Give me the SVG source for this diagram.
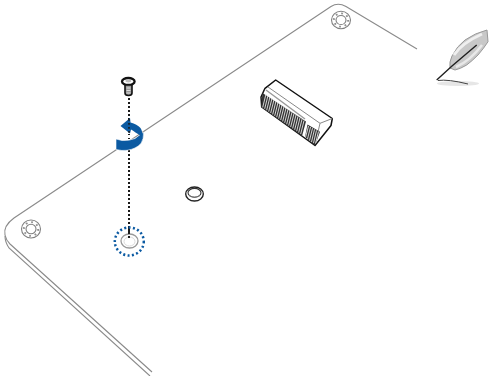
<svg xmlns="http://www.w3.org/2000/svg" width="489" height="376" viewBox="0 0 489 376">
<defs>
<style>
.b{fill:none;stroke:#8a8a8a;stroke-width:1.100}
.d{fill:none;stroke:#1a1a1a;stroke-width:2;stroke-dasharray:2 2}
</style>
<g id="mh">
<circle r="9.500" fill="#fff" stroke="#808080" stroke-width="1.100"/>
<circle r="5" fill="none" stroke="#808080" stroke-width="1.100"/>
<circle r="7.200" fill="none" stroke="#909090" stroke-width="2" stroke-dasharray="1.800 3.850"/>
</g>
</defs>
<rect width="489" height="376" fill="#fff"/>
<g id="board">
<path class="b" d="M417 49L346 6.500Q338 2 331 6.500L14 218Q3 226 5 235Q6 240 10 244L152 372"/>
<path class="b" d="M5 236Q5 242 9 248L150 376"/>
</g>
<g id="standoff-top"><use href="#mh" transform="translate(341 20) scale(1 .92)"/></g>
<g id="standoff-left"><use href="#mh" transform="translate(31 229) scale(1 .95)"/></g>
<g id="socket">
<path d="M275.700 80L332.300 118.500L331 125.500L315 145.500L261.700 107L261 97L265 88.300Z" fill="#fff" stroke="#111" stroke-width="1.500" stroke-linejoin="round"/>
<path d="M268 87L320 123.300L332.300 118.500M320 123.300L318 132" fill="none" stroke="#888" stroke-width="1"/>
<path d="M266 90L305 119" fill="none" stroke="#999" stroke-width="1.400"/>
<path d="M262.500 93L306 121.500L302 136L261 107Z" fill="#333"/>
<path d="M266 94l-3.300 13.400M268 95.400l-3.300 13.400M270 96.800l-3.300 13.400M272 98.200l-3.300 13.400M274 99.600l-3.300 13.400M276 101l-3.300 13.400M278 102.400l-3.300 13.400M280 103.800l-3.300 13.400M282 105.200l-3.300 13.400M284 106.600l-3.300 13.400M286 108l-3.300 13.400M288 109.400l-3.300 13.400M290 110.800l-3.300 13.400M292 112.200l-3.300 13.400M294 113.600l-3.300 13.400M296 115l-3.300 13.400M298 116.400l-3.300 13.400M300 117.800l-3.300 13.400M302 119.200l-3.300 13.400M304 120.600l-3.300 13.400" fill="none" stroke="#e8e8e8" stroke-width=".9"/>
<path d="M307.500 124.500L320 131.700L315 145.500L305 137Z" fill="#333"/>
<path d="M308.500 126l-3 11.500M310.500 127l-3 12M312.500 128.200l-3 12.300M314.500 129.300l-3 12.700M316.500 130.400l-3 12.700M318.500 131.500l-3 12" fill="none" stroke="#e8e8e8" stroke-width=".9"/>
</g>
<g id="hole">
<ellipse cx="194.500" cy="194" rx="8.800" ry="7" fill="#fff" stroke="#222" stroke-width="1.400"/>
<ellipse cx="194.500" cy="192.800" rx="6.500" ry="4.400" fill="none" stroke="#333" stroke-width="1.100"/>
<path d="M189 195.500Q194.500 199 200 195.500" fill="none" stroke="#777" stroke-width="1"/>
</g>
<g id="connectors">
<path class="d" d="M129 98V241"/>
</g>
<g id="screw">
<ellipse cx="128.300" cy="81.500" rx="6.300" ry="3.500" fill="#fff" stroke="#111" stroke-width="2.300"/>
<ellipse cx="128.300" cy="81" rx="3" ry="1.400" fill="#bbb"/>
<path d="M125 85H132V93Q132 95.500 128.500 95.500Q125 95.500 125 93Z" fill="#999" stroke="#111" stroke-width="1.600"/>
<path d="M126.500 88H130.500M126.500 90.500H130.500M126.500 93H130.500" stroke="#ddd" stroke-width="1"/>
</g>
<g id="rotate-arrow">
<path d="M116 139L116 149.500Q122 151 127 150.300Q136 149 141 143.500Q144 139 143.500 132L135 138.500Q129 141 122 140.500Z" fill="#0b5aa2" stroke="#fff" stroke-width=".6"/>
<path d="M120.500 126L130 118L130.500 122.500Q137 124 140.500 128Q143 132 142 136.500L135.500 132.500Q133 130.500 131 129.500L130 133.500Z" fill="#0b5aa2"/>
<path d="M129 119V140" fill="none" stroke="#1a1a1a" stroke-width="1.600" stroke-dasharray="1.800 2.200"/>
<path d="M129 133V140" fill="none" stroke="#fff" stroke-width="2" stroke-dasharray="2 2" stroke-dashoffset="2"/>
</g>
<g id="target">
<ellipse cx="129.500" cy="241" rx="8.500" ry="7" fill="#fff" stroke="#999" stroke-width="1.300"/>
<ellipse cx="129.500" cy="241.500" rx="5.500" ry="4.500" fill="none" stroke="#d0d0d0" stroke-width=".8"/>
<path class="d" d="M129 228V240"/>
<ellipse cx="129.300" cy="241.500" rx="14.500" ry="14" fill="none" stroke="#0b5aa2" stroke-width="2.500" stroke-dasharray="2 2.400"/>
</g>
<g id="feather">
<ellipse cx="458" cy="83.500" rx="21" ry="2.500" fill="#e6e6e6"/>
<path d="M438 80.500Q448 79 468 84" fill="none" stroke="#444" stroke-width="1"/>
<path d="M450 68Q449 62 452 56Q457 46 465 40Q475 33 487 30L488 41.700Q484 48 478 55Q472 61 466.700 65Q460 69 455 70Z" fill="#c8c8c8" stroke="#999" stroke-width="1"/>
<path d="M454 55Q462 43 482 34" fill="none" stroke="#efefef" stroke-width="3"/>
<path d="M456 67Q470 61 482 45" fill="none" stroke="#e8e8e8" stroke-width="2.500"/>
<path d="M436.700 80L452 66L476.700 45" fill="none" stroke="#1f1f1f" stroke-width="1.400"/>
</g>
</svg>
